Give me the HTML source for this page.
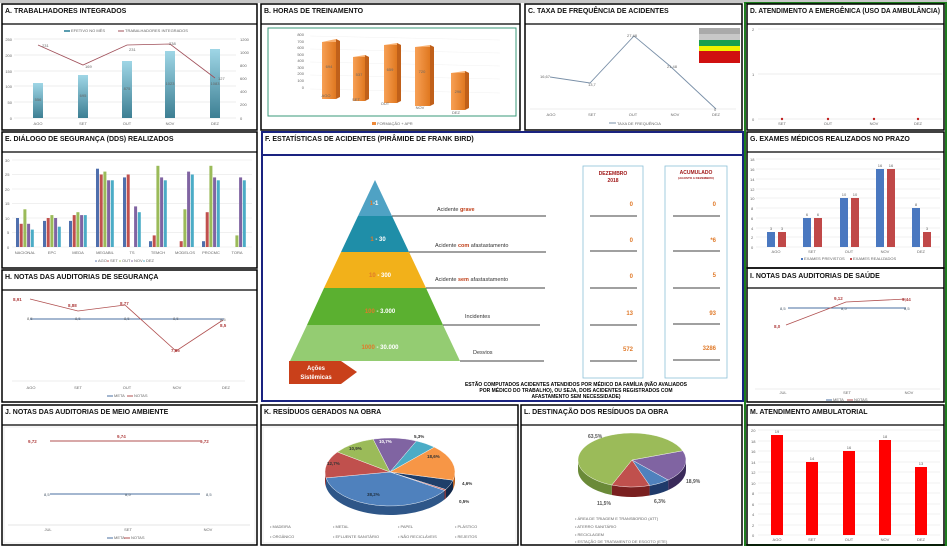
<!DOCTYPE html>
<html><head><meta charset="utf-8"><style>
html,body{margin:0;padding:0;background:#fff;}
svg{display:block;font-family:"Liberation Sans",sans-serif;}
.t{font-size:7px;font-weight:bold;fill:#111;}
.s{font-size:4px;fill:#666;}
.v{font-size:4.5px;fill:#333;}
</style></head><body>
<svg width="947" height="546" viewBox="0 0 947 546">
<rect x="0" y="0" width="947" height="3" fill="#c8c8c8"/>
<rect x="745" y="3" width="201" height="542" fill="none" stroke="#1e7d1e" stroke-width="2"/>

<!-- A -->
<rect x="2" y="4" width="255" height="126" fill="none" stroke="#000" stroke-width="1.5"/>
<line x1="2" y1="24" x2="257" y2="24" stroke="#000" stroke-width="1.2"/>
<text class="t" x="5" y="13">A. TRABALHADORES INTEGRADOS</text>
<defs>
<linearGradient id="gA" x1="0" y1="0" x2="0" y2="1"><stop offset="0" stop-color="#9fd6e6"/><stop offset="1" stop-color="#3d7f93"/></linearGradient>
<linearGradient id="gB" x1="0" y1="0" x2="1" y2="0"><stop offset="0" stop-color="#f7a055"/><stop offset="1" stop-color="#e07820"/></linearGradient>
</defs>
<g stroke="#ddd" stroke-width="0.5">
<line x1="14" y1="39" x2="236" y2="39"/><line x1="14" y1="55" x2="236" y2="55"/><line x1="14" y1="71" x2="236" y2="71"/><line x1="14" y1="86" x2="236" y2="86"/><line x1="14" y1="102" x2="236" y2="102"/><line x1="14" y1="118" x2="236" y2="118"/>
</g>
<g class="s" text-anchor="end"><text x="12" y="41">250</text><text x="12" y="57">200</text><text x="12" y="73">150</text><text x="12" y="88">100</text><text x="12" y="104">50</text><text x="12" y="120">0</text></g>
<g class="s"><text x="240" y="41">1200</text><text x="240" y="54">1000</text><text x="240" y="67">800</text><text x="240" y="80">600</text><text x="240" y="93">400</text><text x="240" y="106">200</text><text x="240" y="120">0</text></g>
<g fill="url(#gA)"><rect x="33" y="83" width="10" height="35"/><rect x="78" y="75" width="10" height="43"/><rect x="122" y="61" width="10" height="57"/><rect x="165" y="51" width="10" height="67"/><rect x="210" y="49" width="10" height="69"/></g>
<g class="s" text-anchor="middle" fill="#234"><text x="38" y="101">556</text><text x="83" y="97">695</text><text x="127" y="90">875</text><text x="170" y="85">1023</text><text x="215" y="85">1083</text></g>
<polyline points="38,45 83,65 127,45 170,44 215,78" fill="none" stroke="#a0505a" stroke-width="0.8"/>
<g class="s"><text x="42" y="47">231</text><text x="85" y="68">169</text><text x="129" y="51">231</text><text x="169" y="45">238</text><text x="218" y="80">127</text></g>
<g class="s" text-anchor="middle"><text x="38" y="125">AGO</text><text x="83" y="125">SET</text><text x="127" y="125">OUT</text><text x="170" y="125">NOV</text><text x="215" y="125">DEZ</text></g>
<rect x="64" y="30" width="6" height="2" fill="#5a9db0"/><text class="s" x="71" y="32">EFETIVO NO MÊS</text>
<line x1="118" y1="31" x2="124" y2="31" stroke="#a0505a"/><text class="s" x="125" y="32">TRABALHADORES INTEGRADOS</text>

<!-- B -->
<rect x="261" y="4" width="259" height="126" fill="none" stroke="#000" stroke-width="1.5"/>
<line x1="261" y1="24" x2="520" y2="24" stroke="#000" stroke-width="1.2"/>
<text class="t" x="264" y="13">B. HORAS DE TREINAMENTO</text>
<rect x="268" y="28" width="248" height="88" fill="none" stroke="#3a9a7a" stroke-width="1"/>
<g class="s" text-anchor="end"><text x="304" y="36">800</text><text x="304" y="43">700</text><text x="304" y="49">600</text><text x="304" y="56">500</text><text x="304" y="62">400</text><text x="304" y="69">300</text><text x="304" y="75">200</text><text x="304" y="82">100</text><text x="304" y="89">0</text></g>
<g stroke="#eee" stroke-width="0.4"><line x1="310" y1="36" x2="500" y2="40"/><line x1="310" y1="49" x2="500" y2="53"/><line x1="310" y1="62" x2="500" y2="66"/><line x1="310" y1="75" x2="500" y2="79"/><line x1="310" y1="89" x2="500" y2="93"/></g>
<g>
<polygon points="322,42 336,39 340,41 326,44" fill="#f8b070"/><rect x="322" y="42" width="14" height="57" fill="url(#gB)"/><polygon points="336,39 340,41 340,97 336,99" fill="#c0601a"/>
<polygon points="353,57 365,55 369,57 357,59" fill="#f8b070"/><rect x="353" y="57" width="12" height="44" fill="url(#gB)"/><polygon points="365,55 369,57 369,99 365,101" fill="#c0601a"/>
<polygon points="384,45 397,43 401,45 388,47" fill="#f8b070"/><rect x="384" y="45" width="13" height="58" fill="url(#gB)"/><polygon points="397,43 401,45 401,101 397,103" fill="#c0601a"/>
<polygon points="415,47 430,45 434,47 419,49" fill="#f8b070"/><rect x="415" y="47" width="15" height="59" fill="url(#gB)"/><polygon points="430,45 434,47 434,104 430,106" fill="#c0601a"/>
<polygon points="451,73 465,71 469,73 455,75" fill="#f8b070"/><rect x="451" y="73" width="14" height="37" fill="url(#gB)"/><polygon points="465,71 469,73 469,108 465,110" fill="#c0601a"/>
</g>
<g class="s" text-anchor="middle" fill="#633"><text x="329" y="68">694</text><text x="359" y="76">537</text><text x="390" y="71">659</text><text x="422" y="73">720</text><text x="458" y="93">296</text></g>
<g class="s" text-anchor="middle"><text x="326" y="97">AGO</text><text x="356" y="101">SET</text><text x="385" y="105">OUT</text><text x="420" y="109">NOV</text><text x="456" y="114">DEZ</text></g>
<rect x="372" y="122" width="4" height="3" fill="#ee8a3a"/><text class="s" x="377" y="125">FORMAÇÃO + APR</text>

<!-- C -->
<rect x="525" y="4" width="217" height="126" fill="none" stroke="#000" stroke-width="1.5"/>
<line x1="525" y1="24" x2="742" y2="24" stroke="#000" stroke-width="1.2"/>
<text class="t" x="528" y="13">C. TAXA DE FREQUÊNCIA DE ACIDENTES</text>
<line x1="530" y1="109" x2="736" y2="109" stroke="#ddd" stroke-width="0.5"/>
<polyline points="550,77 590,83 634,36 670,66 716,109" fill="none" stroke="#7a90a8" stroke-width="0.9"/>
<g class="s" fill="#456"><text x="540" y="78">16,67</text><text x="588" y="86">13,7</text><text x="627" y="37">27,48</text><text x="667" y="68">21,48</text><text x="714" y="111">0</text></g>
<g class="s" text-anchor="middle"><text x="551" y="116">AGO</text><text x="592" y="116">SET</text><text x="633" y="116">OUT</text><text x="675" y="116">NOV</text><text x="716" y="116">DEZ</text></g>
<line x1="609" y1="123" x2="616" y2="123" stroke="#7a90a8"/><text class="s" x="617" y="125">TAXA DE FREQUÊNCIA</text>
<rect x="699" y="28" width="41" height="6" fill="#aaa"/><rect x="699" y="34" width="41" height="6" fill="#c8c8c8"/><rect x="699" y="40" width="41" height="6" fill="#1aa050"/><rect x="699" y="46" width="41" height="5" fill="#f2f200"/><rect x="699" y="51" width="41" height="6" fill="#d01010"/><rect x="699" y="57" width="41" height="6" fill="#d01010"/>

<!-- D -->
<rect x="747" y="4" width="197" height="126" fill="none" stroke="#000" stroke-width="1.5"/>
<line x1="747" y1="24" x2="944" y2="24" stroke="#000" stroke-width="1.2"/>
<text class="t" x="750" y="13" font-size="6.5" textLength="190" lengthAdjust="spacingAndGlyphs">D. ATENDIMENTO A EMERGÊNICA (USO DA AMBULÂNCIA)</text>
<g stroke="#ddd" stroke-width="0.5"><line x1="758" y1="29" x2="942" y2="29"/><line x1="758" y1="74" x2="942" y2="74"/><line x1="758" y1="119" x2="942" y2="119"/></g>
<g class="s"><text x="752" y="31">2</text><text x="752" y="76">1</text><text x="752" y="121">0</text></g>
<g fill="#c02020"><circle cx="782" cy="119" r="1.2"/><circle cx="828" cy="119" r="1.2"/><circle cx="874" cy="119" r="1.2"/><circle cx="918" cy="119" r="1.2"/></g>
<g class="s" text-anchor="middle"><text x="782" y="125">SET</text><text x="828" y="125">OUT</text><text x="874" y="125">NOV</text><text x="918" y="125">DEZ</text></g>

<!-- E -->
<rect x="2" y="132" width="255" height="136" fill="none" stroke="#000" stroke-width="1.5"/>
<line x1="2" y1="152" x2="257" y2="152" stroke="#000" stroke-width="1.2"/>
<text class="t" x="5" y="141">E. DIÁLOGO DE SEGURANÇA (DDS) REALIZADOS</text>
<g stroke="#e2e2e2" stroke-width="0.5"><line x1="12" y1="160" x2="252" y2="160"/><line x1="12" y1="174.5" x2="252" y2="174.5"/><line x1="12" y1="189" x2="252" y2="189"/><line x1="12" y1="203.5" x2="252" y2="203.5"/><line x1="12" y1="218" x2="252" y2="218"/><line x1="12" y1="232.5" x2="252" y2="232.5"/><line x1="12" y1="247" x2="252" y2="247"/></g>
<g class="s"><text x="5" y="162">30</text><text x="5" y="176">25</text><text x="5" y="191">20</text><text x="5" y="205">15</text><text x="5" y="220">10</text><text x="7" y="234">5</text><text x="7" y="249">0</text></g>
<g id="ebars"></g>
<g class="s" text-anchor="middle" font-size="3.5"><text x="25" y="254">NACIONAL</text><text x="52" y="254">EPC</text><text x="78" y="254">MEDA</text><text x="105" y="254">MEGABIL</text><text x="132" y="254">TS</text><text x="158" y="254">TEMCH</text><text x="185" y="254">MODELOS</text><text x="211" y="254">PROCMC</text><text x="237" y="254">TORA</text></g>
<g class="s"><circle cx="96" cy="261" r="0.8" fill="#4f6fad"/><text x="98" y="262">AGO</text><circle cx="108" cy="261" r="0.8" fill="#c0504d"/><text x="110" y="262">SET</text><circle cx="120" cy="261" r="0.8" fill="#9bbb59"/><text x="122" y="262">OUT</text><circle cx="132" cy="261" r="0.8" fill="#8064a2"/><text x="134" y="262">NOV</text><circle cx="144" cy="261" r="0.8" fill="#4bacc6"/><text x="146" y="262">DEZ</text></g>

<!-- F -->
<rect x="262" y="132" width="481" height="269" fill="none" stroke="#1a2380" stroke-width="2"/>
<line x1="262" y1="155" x2="743" y2="155" stroke="#1a2380" stroke-width="2"/>
<text class="t" x="265" y="141" font-size="6.5">F. ESTATÍSTICAS DE ACIDENTES (PIRÂMIDE DE FRANK BIRD)</text>
<polygon points="375,180 392,216 358,216" fill="#4fa2c4"/>
<polygon points="358,216 392,216 409,252 341,252" fill="#1f8ea8"/>
<polygon points="341,252 409,252 426,288 324,288" fill="#f2b11a"/>
<polygon points="324,288 426,288 443,325 307,325" fill="#5bb030"/>
<polygon points="307,325 443,325 460,361 290,361" fill="#94cc72"/>
<g font-size="6" font-weight="bold" text-anchor="middle" fill="#fff"><text x="374" y="205"><tspan fill="#e07a2a">1</tspan>-1</text><text x="378" y="241"><tspan fill="#e07a2a">1</tspan> - 30</text><text x="380" y="277"><tspan fill="#e07a2a">10</tspan> - 300</text><text x="380" y="313"><tspan fill="#e07a2a">100</tspan> - 3.000</text><text x="380" y="349"><tspan fill="#e07a2a">1000</tspan> - 30.000</text></g>
<g stroke="#000" stroke-width="0.8"><line x1="392" y1="216" x2="546" y2="216"/><line x1="409" y1="252" x2="546" y2="252"/><line x1="426" y1="288" x2="545" y2="288"/><line x1="443" y1="325" x2="540" y2="325"/><line x1="460" y1="361" x2="544" y2="361"/></g>
<g font-size="5.5" fill="#333"><text x="437" y="211">Acidente <tspan fill="#c0401a" font-weight="bold">grave</tspan></text><text x="435" y="247">Acidente <tspan fill="#c0401a" font-weight="bold">com</tspan> afastastamento</text><text x="435" y="281">Acidente <tspan fill="#c0401a" font-weight="bold">sem</tspan> afastastamento</text><text x="465" y="318">Incidentes</text><text x="473" y="354">Desvios</text></g>
<rect x="583" y="166" width="60" height="212" fill="none" stroke="#8cc0d8" stroke-width="0.8"/>
<rect x="665" y="166" width="62" height="212" fill="none" stroke="#8cc0d8" stroke-width="0.8"/>
<g font-size="5" font-weight="bold" fill="#a01818" text-anchor="middle"><text x="613" y="175">DEZEMBRO</text><text x="613" y="182">2018</text><text x="696" y="174">ACUMULADO</text><text x="696" y="179" font-size="3">(AGOSTO A DEZEMBRO)</text></g>
<g stroke="#000" stroke-width="0.8"><line x1="590" y1="216" x2="637" y2="216"/><line x1="590" y1="251" x2="637" y2="251"/><line x1="590" y1="288" x2="637" y2="288"/><line x1="590" y1="325" x2="637" y2="325"/><line x1="590" y1="361" x2="637" y2="361"/><line x1="673" y1="216" x2="720" y2="216"/><line x1="673" y1="251" x2="720" y2="251"/><line x1="673" y1="288" x2="720" y2="288"/><line x1="673" y1="324" x2="720" y2="324"/><line x1="673" y1="360" x2="720" y2="360"/></g>
<g font-size="6" font-weight="bold" fill="#e07a2a" text-anchor="end"><text x="633" y="206">0</text><text x="633" y="242">0</text><text x="633" y="278">0</text><text x="633" y="315">13</text><text x="633" y="351">572</text><text x="716" y="206">0</text><text x="716" y="242">*6</text><text x="716" y="277">5</text><text x="716" y="315">93</text><text x="716" y="350">3286</text></g>
<polygon points="289,361 341,361 357,372 341,384 289,384" fill="#c9401a"/>
<g font-size="6" font-weight="bold" fill="#fff" text-anchor="middle"><text x="316" y="370">Ações</text><text x="316" y="379">Sistêmicas</text></g>
<g font-size="5" font-weight="bold" fill="#000" text-anchor="middle"><text x="576" y="386">ESTÃO COMPUTADOS ACIDENTES ATENDIDOS POR MÉDICO DA FAMÍLIA (NÃO AVALIADOS</text><text x="576" y="392">POR MÉDICO DO TRABALHO), OU SEJA, DOIS ACIDENTES REGISTRADOS COM</text><text x="576" y="398">AFASTAMENTO SEM NECESSIDADE)</text></g>

<!-- G -->
<rect x="747" y="132" width="197" height="136" fill="none" stroke="#000" stroke-width="1.5"/>
<line x1="747" y1="152" x2="944" y2="152" stroke="#000" stroke-width="1.2"/>
<text class="t" x="750" y="141">G. EXAMES MÉDICOS REALIZADOS NO PRAZO</text>
<g stroke="#e2e2e2" stroke-width="0.5"><line x1="756" y1="159" x2="940" y2="159"/><line x1="756" y1="169" x2="940" y2="169"/><line x1="756" y1="179" x2="940" y2="179"/><line x1="756" y1="189" x2="940" y2="189"/><line x1="756" y1="198" x2="940" y2="198"/><line x1="756" y1="208" x2="940" y2="208"/><line x1="756" y1="218" x2="940" y2="218"/><line x1="756" y1="228" x2="940" y2="228"/><line x1="756" y1="237" x2="940" y2="237"/><line x1="756" y1="247" x2="940" y2="247"/></g>
<g class="s" font-size="3.5"><text x="750" y="161">18</text><text x="750" y="171">16</text><text x="750" y="181">14</text><text x="750" y="191">12</text><text x="750" y="200">10</text><text x="751" y="210">8</text><text x="751" y="220">6</text><text x="751" y="230">4</text><text x="751" y="239">2</text><text x="751" y="249">0</text></g>
<g fill="#4a78c0"><rect x="767" y="232" width="8" height="15"/><rect x="803" y="218" width="8" height="29"/><rect x="840" y="198" width="8" height="49"/><rect x="876" y="169" width="8" height="78"/><rect x="912" y="208" width="8" height="39"/></g>
<g fill="#c04848"><rect x="778" y="232" width="8" height="15"/><rect x="814" y="218" width="8" height="29"/><rect x="851" y="198" width="8" height="49"/><rect x="887" y="169" width="8" height="78"/><rect x="923" y="232" width="8" height="15"/></g>
<g class="s" font-size="3.5" text-anchor="middle"><text x="771" y="230">3</text><text x="782" y="230">3</text><text x="807" y="216">6</text><text x="818" y="216">6</text><text x="844" y="196">10</text><text x="855" y="196">10</text><text x="880" y="167">16</text><text x="891" y="167">16</text><text x="916" y="206">8</text><text x="927" y="230">3</text></g>
<g class="s" font-size="3.5" text-anchor="middle"><text x="776" y="253">AGO</text><text x="812" y="253">SET</text><text x="849" y="253">OUT</text><text x="885" y="253">NOV</text><text x="921" y="253">DEZ</text></g>
<g class="s" font-size="3.5"><rect x="801" y="258" width="2" height="2" fill="#4a78c0"/><text x="804" y="260">EXAMES PREVISTOS</text><rect x="850" y="258" width="2" height="2" fill="#c04848"/><text x="853" y="260">EXAMES REALIZADOS</text></g>

<!-- H -->
<rect x="2" y="270" width="255" height="132" fill="none" stroke="#000" stroke-width="1.5"/>
<line x1="2" y1="290" x2="257" y2="290" stroke="#000" stroke-width="1.2"/>
<text class="t" x="5" y="279">H. NOTAS DAS AUDITORIAS DE SEGURANÇA</text>
<line x1="12" y1="381" x2="245" y2="381" stroke="#ddd" stroke-width="0.5"/>
<line x1="30" y1="319" x2="224" y2="319" stroke="#4a6fa0" stroke-width="0.9"/>
<polyline points="30,299 78,311 125,305 176,351 223,320" fill="none" stroke="#b05050" stroke-width="0.8"/>
<g class="s" font-size="4" fill="#456"><text x="27" y="320">8,5</text><text x="75" y="320">8,5</text><text x="124" y="320">8,5</text><text x="173" y="320">8,5</text><text x="220" y="321">8,5</text></g>
<g font-size="4.5" font-weight="bold" fill="#b04040"><text x="13" y="301">8,91</text><text x="68" y="307">8,88</text><text x="120" y="305">8,77</text><text x="171" y="352">7,85</text><text x="220" y="327">8,5</text></g>
<g class="s" text-anchor="middle"><text x="31" y="389">AGO</text><text x="78" y="389">SET</text><text x="127" y="389">OUT</text><text x="177" y="389">NOV</text><text x="226" y="389">DEZ</text></g>
<g class="s" font-size="3.5"><line x1="107" y1="396" x2="113" y2="396" stroke="#4a6fa0"/><text x="114" y="397">META</text><line x1="127" y1="396" x2="133" y2="396" stroke="#b05050"/><text x="134" y="397">NOTAS</text></g>

<!-- I -->
<rect x="747" y="268" width="197" height="134" fill="none" stroke="#000" stroke-width="1.5"/>
<line x1="747" y1="288" x2="944" y2="288" stroke="#000" stroke-width="1.2"/>
<text class="t" x="750" y="278">I. NOTAS DAS AUDITORIAS DE SAÚDE</text>
<line x1="755" y1="389" x2="940" y2="389" stroke="#ddd" stroke-width="0.5"/>
<line x1="788" y1="308" x2="906" y2="308" stroke="#4a6fa0" stroke-width="0.9"/>
<polyline points="786,325 846,302 906,299" fill="none" stroke="#b05050" stroke-width="0.8"/>
<g font-size="4" fill="#456"><text x="780" y="310">8,5</text><text x="841" y="310">8,5</text><text x="904" y="310">8,5</text></g>
<g font-size="4.5" font-weight="bold" fill="#b04040"><text x="774" y="328">8,0</text><text x="834" y="300">9,12</text><text x="902" y="301">9,44</text></g>
<g class="s" font-size="3.5" text-anchor="middle"><text x="783" y="394">JUL</text><text x="847" y="394">SET</text><text x="909" y="394">NOV</text></g>
<g class="s" font-size="3.5"><line x1="826" y1="400" x2="832" y2="400" stroke="#4a6fa0"/><text x="833" y="401">META</text><line x1="847" y1="400" x2="853" y2="400" stroke="#b05050"/><text x="854" y="401">NOTAS</text></g>

<!-- J -->
<rect x="2" y="405" width="255" height="140" fill="none" stroke="#000" stroke-width="1.5"/>
<line x1="2" y1="425" x2="257" y2="425" stroke="#000" stroke-width="1.2"/>
<text class="t" x="5" y="414">J. NOTAS DAS AUDITORIAS DE MEIO AMBIENTE</text>
<rect x="4" y="427" width="251" height="116" fill="none" stroke="#ddd" stroke-width="0.5"/>
<line x1="8" y1="525" x2="250" y2="525" stroke="#ccc" stroke-width="0.5"/>
<line x1="50" y1="441" x2="200" y2="441" stroke="#b05050" stroke-width="0.9"/>
<line x1="50" y1="494" x2="200" y2="494" stroke="#4a6fa0" stroke-width="0.9"/>
<g font-size="4.5" font-weight="bold" fill="#b04040"><text x="28" y="443">9,72</text><text x="117" y="438">9,74</text><text x="200" y="443">9,72</text></g>
<g font-size="4" fill="#456"><text x="44" y="496">8,5</text><text x="125" y="496">8,5</text><text x="206" y="496">8,5</text></g>
<g class="s" text-anchor="middle"><text x="48" y="531">JUL</text><text x="128" y="531">SET</text><text x="208" y="531">NOV</text></g>
<g class="s" font-size="3.5"><line x1="107" y1="538" x2="113" y2="538" stroke="#4a6fa0"/><text x="114" y="539">META</text><line x1="124" y1="538" x2="130" y2="538" stroke="#b05050"/><text x="131" y="539">NOTAS</text></g>

<!-- K -->
<rect x="261" y="405" width="257" height="140" fill="none" stroke="#000" stroke-width="1.5"/>
<line x1="261" y1="425" x2="518" y2="425" stroke="#000" stroke-width="1.2"/>
<text class="t" x="264" y="414">K. RESÍDUOS GERADOS NA OBRA</text>
<rect x="263" y="427" width="253" height="116" fill="none" stroke="#ddd" stroke-width="0.5"/>
<g id="pieK"></g>
<g font-size="4.5" font-weight="bold" fill="#333"><text x="414" y="438">5,3%</text><text x="427" y="458">18,6%</text><text x="379" y="443" fill="#fff">10,7%</text><text x="349" y="450">10,9%</text><text x="327" y="465">12,7%</text><text x="367" y="496" fill="#234">38,2%</text><text x="462" y="485">4,6%</text><text x="459" y="503">0,5%</text></g>
<g class="s" font-size="3.5"><text x="270" y="528">• MADEIRA</text><text x="333" y="528">• METAL</text><text x="398" y="528">• PAPEL</text><text x="455" y="528">• PLÁSTICO</text><text x="270" y="538">• ORGÂNICO</text><text x="333" y="538">• EFLUENTE SANITÁRIO</text><text x="398" y="538">• NÃO RECICLÁVEIS</text><text x="455" y="538">• REJEITOS</text></g>

<!-- L -->
<rect x="521" y="405" width="221" height="140" fill="none" stroke="#000" stroke-width="1.5"/>
<line x1="521" y1="425" x2="742" y2="425" stroke="#000" stroke-width="1.2"/>
<text class="t" x="524" y="414">L. DESTINAÇÃO DOS RESÍDUOS DA OBRA</text>
<g id="pieL"></g>
<g font-size="5" font-weight="bold" fill="#555"><text x="588" y="438">63,5%</text><text x="686" y="483">18,9%</text><text x="597" y="505">11,5%</text><text x="654" y="503">6,3%</text></g>
<g class="s" font-size="4"><text x="575" y="520">• ÁREA DE TRIAGEM E TRANSBORDO (ATT)</text><text x="575" y="528">• ATERRO SANITÁRIO</text><text x="575" y="536">• RECICLAGEM</text><text x="575" y="543">• ESTAÇÃO DE TRATAMENTO DE ESGOTO (ETE)</text></g>

<!-- M -->
<rect x="747" y="405" width="197" height="140" fill="none" stroke="#000" stroke-width="1.5"/>
<line x1="747" y1="425" x2="944" y2="425" stroke="#000" stroke-width="1.2"/>
<text class="t" x="750" y="414">M. ATENDIMENTO AMBULATORIAL</text>
<g stroke="#e2e2e2" stroke-width="0.5"><line x1="758" y1="430" x2="940" y2="430"/><line x1="758" y1="441" x2="940" y2="441"/><line x1="758" y1="451" x2="940" y2="451"/><line x1="758" y1="462" x2="940" y2="462"/><line x1="758" y1="472" x2="940" y2="472"/><line x1="758" y1="483" x2="940" y2="483"/><line x1="758" y1="493" x2="940" y2="493"/><line x1="758" y1="504" x2="940" y2="504"/><line x1="758" y1="514" x2="940" y2="514"/><line x1="758" y1="525" x2="940" y2="525"/><line x1="758" y1="535" x2="940" y2="535"/></g>
<g class="s" font-size="3.5"><text x="751" y="432">20</text><text x="751" y="443">18</text><text x="751" y="453">16</text><text x="751" y="464">14</text><text x="751" y="474">12</text><text x="751" y="485">10</text><text x="752" y="495">8</text><text x="752" y="506">6</text><text x="752" y="516">4</text><text x="752" y="527">2</text><text x="752" y="537">0</text></g>
<g fill="#ff0000"><rect x="771" y="435" width="12" height="100"/><rect x="806" y="462" width="12" height="73"/><rect x="843" y="451" width="12" height="84"/><rect x="879" y="440" width="12" height="95"/><rect x="915" y="467" width="12" height="68"/></g>
<g class="s" font-size="3.5" text-anchor="middle"><text x="777" y="433">19</text><text x="812" y="460">14</text><text x="849" y="449">16</text><text x="885" y="438">18</text><text x="921" y="465">13</text><text x="777" y="541">AGO</text><text x="812" y="541">SET</text><text x="849" y="541">OUT</text><text x="885" y="541">NOV</text><text x="921" y="541">DEZ</text></g>
</svg>
<script>
(function(){
var NS="http://www.w3.org/2000/svg";
function el(p,t,a){var e=document.createElementNS(NS,t);for(var k in a)e.setAttribute(k,a[k]);p.appendChild(e);return e;}
var g=document.getElementById("ebars");
var cols=["#4f6fad","#c0504d","#9bbb59","#8064a2","#4bacc6"];
var data=[[10,8,13,8,6],[9,10,11,10,7],[9,11,12,11,11],[27,25,26,23,23],[24,25,0,14,12],[2,4,28,24,23],[0,2,13,26,25],[2,12,28,24,23],[0,0,4,24,23]];
var cx=[25,52,78,105,132,158,185,211,237];
data.forEach(function(d,i){d.forEach(function(v,j){var h=v*2.9;if(h>0)el(g,"rect",{x:cx[i]-9+j*3.7,y:247-h,width:3,height:h,fill:cols[j]});});});
function pie(id,cx,cy,rx,ry,dep,sl){
 var p=document.getElementById(id);
 function pt(a){var r=a*Math.PI/180;return [cx+rx*Math.cos(r),cy+ry*Math.sin(r)];}
 sl.forEach(function(s){
  [[s[0],s[1]],[s[0]-360,s[1]-360]].forEach(function(r){
   var b0=Math.max(r[0],0),b1=Math.min(r[1],180);
   if(b1>b0){var P0=pt(b0),P1=pt(b1);
    var d="M"+P0[0]+","+P0[1]+" A"+rx+","+ry+" 0 0 1 "+P1[0]+","+P1[1]+" L"+P1[0]+","+(P1[1]+dep)+" A"+rx+","+ry+" 0 0 0 "+P0[0]+","+(P0[1]+dep)+" Z";
    el(p,"path",{d:d,fill:s[3]});}
  });
 });
 sl.forEach(function(s){var P0=pt(s[0]),P1=pt(s[1]);var lg=(s[1]-s[0])>180?1:0;
  el(p,"path",{d:"M"+cx+","+cy+" L"+P0[0]+","+P0[1]+" A"+rx+","+ry+" 0 "+lg+" 1 "+P1[0]+","+P1[1]+" Z",fill:s[2],stroke:"#fff","stroke-width":0.4});});
}
pie("pieK",390,472,65,34,9,[[14,31,"#1f3f6a","#12284a"],[31,33,"#c0504d","#802020"],[33,170,"#4f81bd","#2e5688"],[170,216,"#c0504d","#8a2a28"],[216,255,"#9bbb59","#6a8a38"],[255,294,"#8064a2","#5a4478"],[294,313,"#4bacc6","#2a7a90"],[313,374,"#f79646","#b86020"]]);
pie("pieL",632,460,54,27,10,[[-20,48,"#8064a2","#3a2a5a"],[48,71,"#4f81bd","#1f3a6a"],[71,112,"#c0504d","#7a2020"],[112,340,"#9bbb59","#6a8a38"]]);
})();
</script>
</body></html>
